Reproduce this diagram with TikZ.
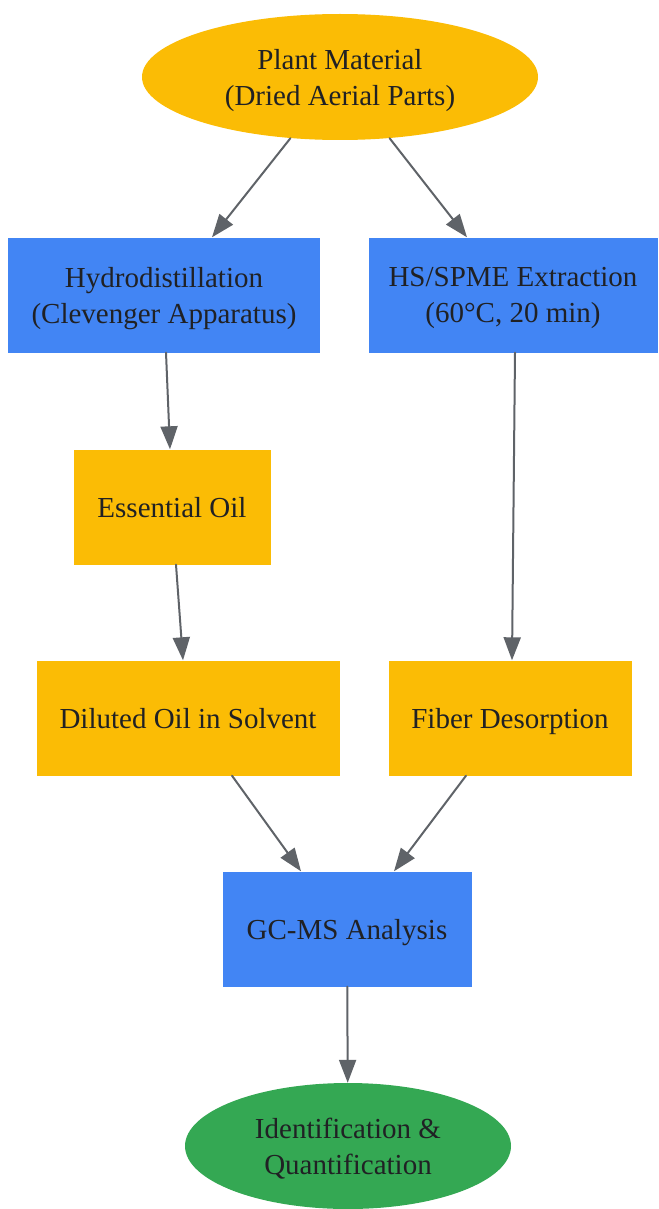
\documentclass[tikz,border=0pt]{standalone}
\usepackage{fontspec}
\setmainfont{Liberation Serif}
\usepackage{xcolor}
\usetikzlibrary{shapes.geometric,arrows.meta}
\definecolor{gyellow}{HTML}{FBBC05}
\definecolor{gblue}{HTML}{4285F4}
\definecolor{ggreen}{HTML}{34A853}
\definecolor{edgegray}{HTML}{5F6368}
\definecolor{txtgray}{HTML}{202124}

\begin{document}
\begin{tikzpicture}[line cap=round,line join=round,x=1pt,y=-1pt,
  box/.style={rectangle,inner sep=0pt,align=center,text depth=0pt,text=txtgray,font=\fontsize{29}{36}\selectfont},
  oval/.style={ellipse,inner sep=0pt,align=center,text depth=0pt,text=txtgray,font=\fontsize{29}{36}\selectfont},
  flow/.style={-{Triangle[length=23pt,width=17pt]},line width=2pt,color=edgegray}]
\useasboundingbox (0,0) rectangle (658,1209);
% nodes
\node[oval,fill=gyellow,minimum width=396pt,minimum height=126pt] (plant) at (340,77) {Plant Material\\(Dried Aerial Parts)};
\node[box,fill=gblue,minimum width=312pt,minimum height=115pt] (hydro) at (164,295) {Hydrodistillation\\(Clevenger Apparatus)};
\node[box,fill=gblue,minimum width=289pt,minimum height=115pt] (spme) at (513,295) {HS/SPME Extraction\\(60°C, 20 min)};
\node[box,fill=gyellow,minimum width=197pt,minimum height=115pt] (essoil) at (172,507) {Essential Oil};
\node[box,fill=gyellow,minimum width=303pt,minimum height=115pt] (diluted) at (188,718) {Diluted Oil in Solvent};
\node[box,fill=gyellow,minimum width=243pt,minimum height=115pt] (fiber) at (510,718) {Fiber Desorption};
\node[box,fill=gblue,minimum width=249pt,minimum height=115pt] (gcms) at (347,929) {GC-MS Analysis};
\node[oval,fill=ggreen,minimum width=326pt,minimum height=126pt] (ident) at (348,1146) {Identification \&\\Quantification};
% arrows
\draw[flow] (plant.231) -- ([xshift=48pt]hydro.north);
\draw[flow] (plant.309) -- ([xshift=-46pt]spme.north);
\draw[flow] ([xshift=2pt]hydro.south) -- ([xshift=-2pt]essoil.north);
\draw[flow] ([xshift=2pt]spme.south) -- ([xshift=2pt]fiber.north);
\draw[flow] ([xshift=4pt]essoil.south) -- ([xshift=-5pt]diluted.north);
\draw[flow] ([xshift=44pt]diluted.south) -- ([xshift=-46pt]gcms.north);
\draw[flow] ([xshift=-44pt]fiber.south) -- ([xshift=47pt]gcms.north);
\draw[flow] (gcms) -- (ident);
\end{tikzpicture}
\end{document}
